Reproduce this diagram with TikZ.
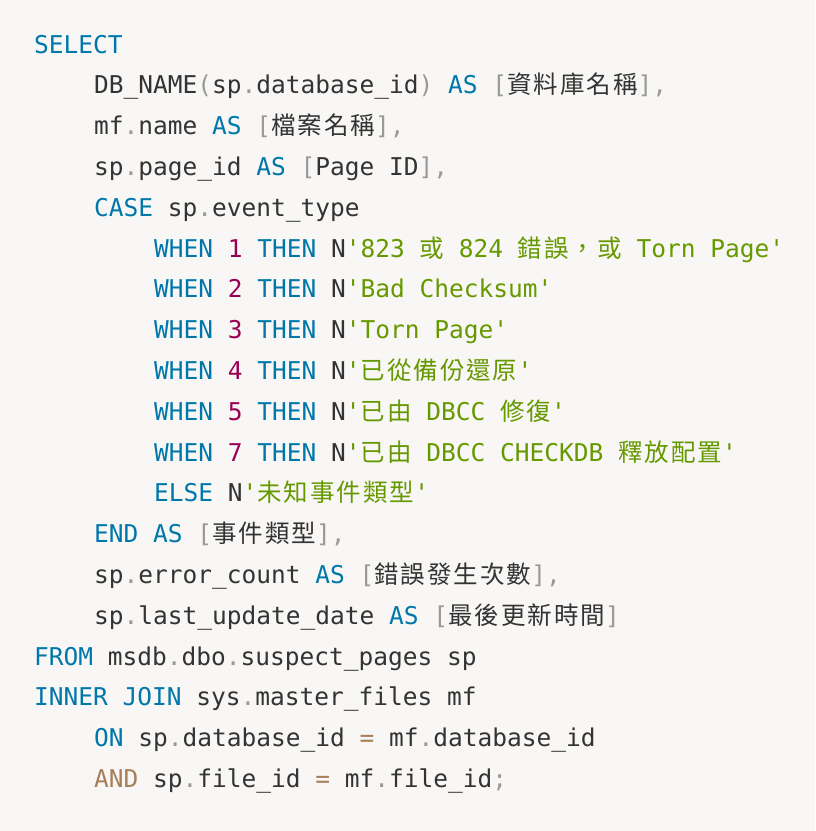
\documentclass[tikz,border=0pt]{standalone}
\usepackage{fontspec}
\setmonofont{DejaVu Sans Mono}
\newfontfamily\cjk{Noto Sans CJK TC}
\definecolor{bgcol}{HTML}{F8F7F5}
\definecolor{txtcol}{HTML}{333333}
\definecolor{kwcol}{HTML}{0077AA}
\definecolor{numcol}{HTML}{990055}
\definecolor{strcol}{HTML}{669900}
\definecolor{puncol}{HTML}{999999}
\definecolor{opcol}{HTML}{A67F59}
\newcommand{\kw}[1]{\textcolor{kwcol}{#1}}
\newcommand{\nm}[1]{\textcolor{numcol}{#1}}
\newcommand{\st}[1]{\textcolor{strcol}{#1}}
\newcommand{\pu}[1]{\textcolor{puncol}{#1}}
\newcommand{\op}[1]{\textcolor{opcol}{#1}}
\newcommand{\cj}[1]{{\cjk\fontsize{24.5}{24.5}\selectfont\addfontfeature{LetterSpace=8}#1}}
\tikzset{
  code/.style={anchor=base west, inner sep=0pt, text=txtcol,
    font=\ttfamily\fontsize{24.5}{24.5}\selectfont}
}
\begin{document}
\begin{tikzpicture}[x=1pt,y=-1pt]
  \fill[bgcol] (0,0) rectangle (815,831);
  \useasboundingbox (0,0) rectangle (815,831);
  % listing lines
  \node[code] (l0) at (34,53) {\kw{SELECT}};
  \node[code] (l1) at (94,93.8) {DB\_NAME\pu{(}sp\pu{.}database\_id\pu{)} \kw{AS} \pu{[}\cj{資料庫名稱}\pu{],}};
  \node[code] (l2) at (94,134.6) {mf\pu{.}name \kw{AS} \pu{[}\cj{檔案名稱}\pu{],}};
  \node[code] (l3) at (94,175.4) {sp\pu{.}page\_id \kw{AS} \pu{[}Page ID\pu{],}};
  \node[code] (l4) at (94,216.2) {\kw{CASE} sp\pu{.}event\_type};
  \node[code] (l5) at (154,257) {\kw{WHEN} \nm{1} \kw{THEN} N\st{'823 \cj{或} 824 \cj{錯誤，或} Torn Page'}};
  \node[code] (l6) at (154,297.8) {\kw{WHEN} \nm{2} \kw{THEN} N\st{'Bad Checksum'}};
  \node[code] (l7) at (154,338.6) {\kw{WHEN} \nm{3} \kw{THEN} N\st{'Torn Page'}};
  \node[code] (l8) at (154,379.4) {\kw{WHEN} \nm{4} \kw{THEN} N\st{'\cj{已從備份還原}'}};
  \node[code] (l9) at (154,420.2) {\kw{WHEN} \nm{5} \kw{THEN} N\st{'\cj{已由} DBCC \cj{修復}'}};
  \node[code] (l10) at (154,461) {\kw{WHEN} \nm{7} \kw{THEN} N\st{'\cj{已由} DBCC CHECKDB \cj{釋放配置}'}};
  \node[code] (l11) at (154,501.8) {\kw{ELSE} N\st{'\cj{未知事件類型}'}};
  \node[code] (l12) at (94,542.6) {\kw{END} \kw{AS} \pu{[}\cj{事件類型}\pu{],}};
  \node[code] (l13) at (94,583.4) {sp\pu{.}error\_count \kw{AS} \pu{[}\cj{錯誤發生次數}\pu{],}};
  \node[code] (l14) at (94,624.2) {sp\pu{.}last\_update\_date \kw{AS} \pu{[}\cj{最後更新時間}\pu{]}};
  \node[code] (l15) at (34,665) {\kw{FROM} msdb\pu{.}dbo\pu{.}suspect\_pages sp};
  \node[code] (l16) at (34,705.8) {\kw{INNER} \kw{JOIN} sys\pu{.}master\_files mf};
  \node[code] (l17) at (94,746.6) {\kw{ON} sp\pu{.}database\_id \op{=} mf\pu{.}database\_id};
  \node[code] (l18) at (94,787.4) {\op{AND} sp\pu{.}file\_id \op{=} mf\pu{.}file\_id\pu{;}};
\end{tikzpicture}
\end{document}
